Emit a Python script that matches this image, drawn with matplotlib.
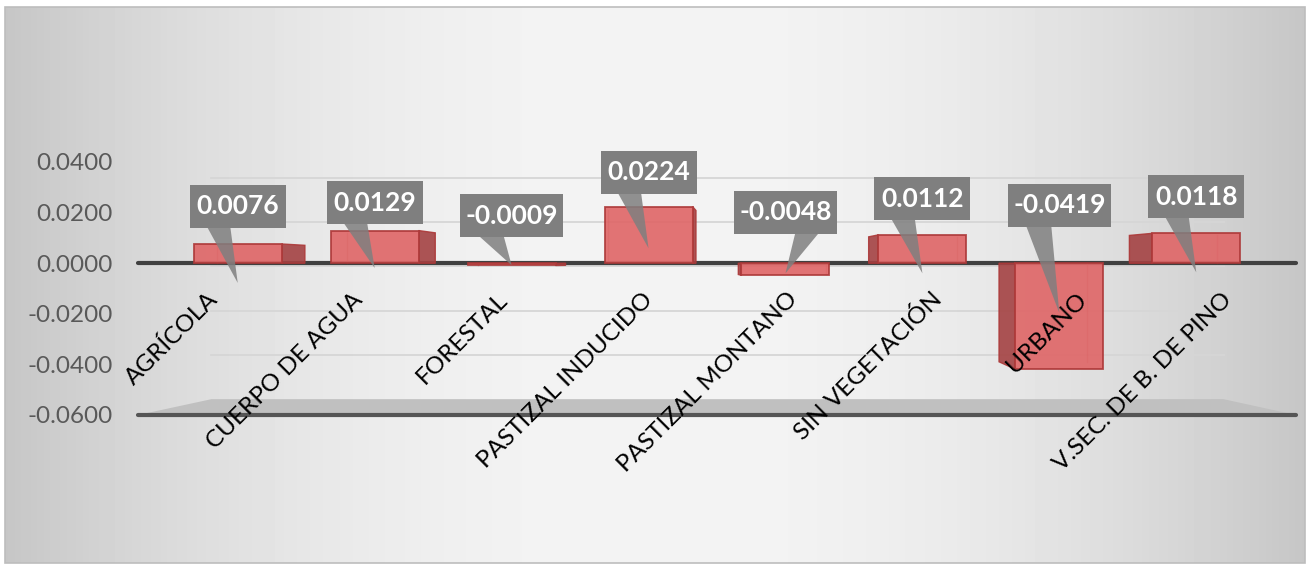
import numpy as np
import matplotlib.pyplot as plt
from matplotlib.patches import Polygon, Rectangle

plt.rcParams['font.family'] = ['Lato', 'DejaVu Sans']

# cambio por uso de suelo
categorias = ['AGRÍCOLA', 'CUERPO DE AGUA', 'FORESTAL', 'PASTIZAL INDUCIDO',
              'PASTIZAL MONTANO', 'SIN VEGETACIÓN', 'URBANO', 'V.SEC. DE B. DE PINO']
valores = [0.0076, 0.0129, -0.0009, 0.0224, -0.0048, 0.0112, -0.0419, 0.0118]
yticks = [0.04, 0.02, 0.0, -0.02, -0.04, -0.06]

# posicion de las etiquetas tipo globo
etiqueta_y = [0.0226, 0.0238, 0.0187, 0.0360, 0.0202, 0.0254, 0.0230, 0.0262]
punta_y = [-0.0078, -0.0019, -0.0008, 0.0059, -0.0040, -0.0040, -0.0197, -0.0036]
lado_cola = [-1, -1, -1, -1, 1, -1, -1, -1]

W, H = 1310, 564
fig = plt.figure(figsize=(W / 100, H / 100), dpi=100)
fig.patch.set_facecolor('white')

# fondo con degradado
bg = fig.add_axes([0, 0, 1, 1])
bg.set_xlim(0, W)
bg.set_ylim(H, 0)
bg.axis('off')
t = np.linspace(0, 1, 400)
g = (198 + 46 * (1 - (2 * t - 1) ** 2)) / 255.0
img = np.tile(g, (50, 1))
bg.imshow(img, cmap='gray', vmin=0, vmax=1, extent=(5, 1305, 563, 7), aspect='auto')
bg.add_patch(Rectangle((5, 7), 1300, 556, fill=False, edgecolor='#bdbdbd', lw=1.2))

ax = fig.add_axes([138 / W, (H - 415) / H, 1158 / W, 253 / H])
ax.patch.set_alpha(0)
ax.set_xlim(-0.5, 7.5)
ax.set_ylim(-0.06, 0.04)
for s in ax.spines.values():
    s.set_visible(False)
ax.set_xticks([])
ax.set_yticks(yticks)
ax.set_yticklabels(['%.4f' % v for v in yticks], fontsize=17.5, color='#595959')
ax.tick_params(axis='y', length=0, pad=18)

n = len(categorias)
idx = np.arange(n)

# pared del fondo y piso en perspectiva
kb = 0.874
cx0, cy0 = 3.526, -0.0013
xb0 = cx0 + (-0.5 - cx0) * kb
xb1 = cx0 + (7.5 - cx0) * kb
for v in yticks[:-1]:
    yb = cy0 + v * kb
    ax.plot([xb0, xb1], [yb, yb], color='#d6d6d6', lw=1.3, zorder=1, clip_on=False)
yfondo = cy0 + (-0.06) * kb
ax.add_patch(Polygon([(-0.5, -0.06), (7.5, -0.06), (xb1, yfondo), (xb0, yfondo)],
                     closed=True, facecolor='#c0c0c0', edgecolor='none', zorder=1, clip_on=False))
ax.plot([-0.5, 7.5], [-0.06, -0.06], color='#555555', lw=3, zorder=2, clip_on=False,
        solid_capstyle='round')
ax.plot([-0.5, 7.5], [0, 0], color='#404040', lw=3, zorder=2, clip_on=False,
        solid_capstyle='round')

# barras
pos = 3.5 + (idx - 3.5) * 0.946
ancho = 0.608
frente = '#df6566'
borde = '#ac3838'
lateral = '#a44243'
for p, v in zip(pos, valores):
    d = 0.048 * (3.52 - p)
    if d > 0:
        xn = p + ancho / 2
    else:
        xn = p - ancho / 2
    xf = xn + d
    ax.add_patch(Polygon([(xn, 0), (xn, v), (xf, v * 0.93), (xf, 0)], closed=True,
                         facecolor=lateral, edgecolor=borde, lw=1, alpha=0.9, zorder=3))
    xi = (p + ancho / 2 + d) if d < 0 else (p - ancho / 2 + d)
    ax.plot([xi, xi], [0, v * 0.93], color=borde, lw=1, alpha=0.35, zorder=4)
ax.bar(pos, valores, width=ancho, color=frente, edgecolor=borde, lw=1.3,
       alpha=0.9, zorder=4)

# etiquetas de valor con globo
gris = '#7f7f7f'
alto = 0.017
for p, v, ly, ty, lado in zip(pos, valores, etiqueta_y, punta_y, lado_cola):
    w = 0.663 if v >= 0 else 0.71
    yb = ly - alto / 2
    if lado < 0:
        a, b = -0.33, -0.08
    else:
        a, b = 0.10, 0.34
    ax.add_patch(Polygon([(p + a * w, yb + 0.001), (p + b * w, yb + 0.001), (p, ty)],
                         closed=True, facecolor=gris, edgecolor='none', alpha=0.85,
                         zorder=5, clip_on=False))
    ax.add_patch(Rectangle((p - w / 2, yb), w, alto, facecolor=gris, edgecolor='none',
                           zorder=6, clip_on=False))
    ax.text(p, ly, '%.4f' % v, ha='center', va='center', color='white',
            fontsize=19, fontweight='bold', zorder=7, clip_on=False)

# nombres de categoria inclinados
for i, c in enumerate(categorias):
    ax.text(i + 0.03, -0.013, c, rotation=45, rotation_mode='anchor', ha='right',
            va='center', fontsize=17.5, color='black', zorder=8, clip_on=False)

fig.savefig('out.png', dpi=100)
